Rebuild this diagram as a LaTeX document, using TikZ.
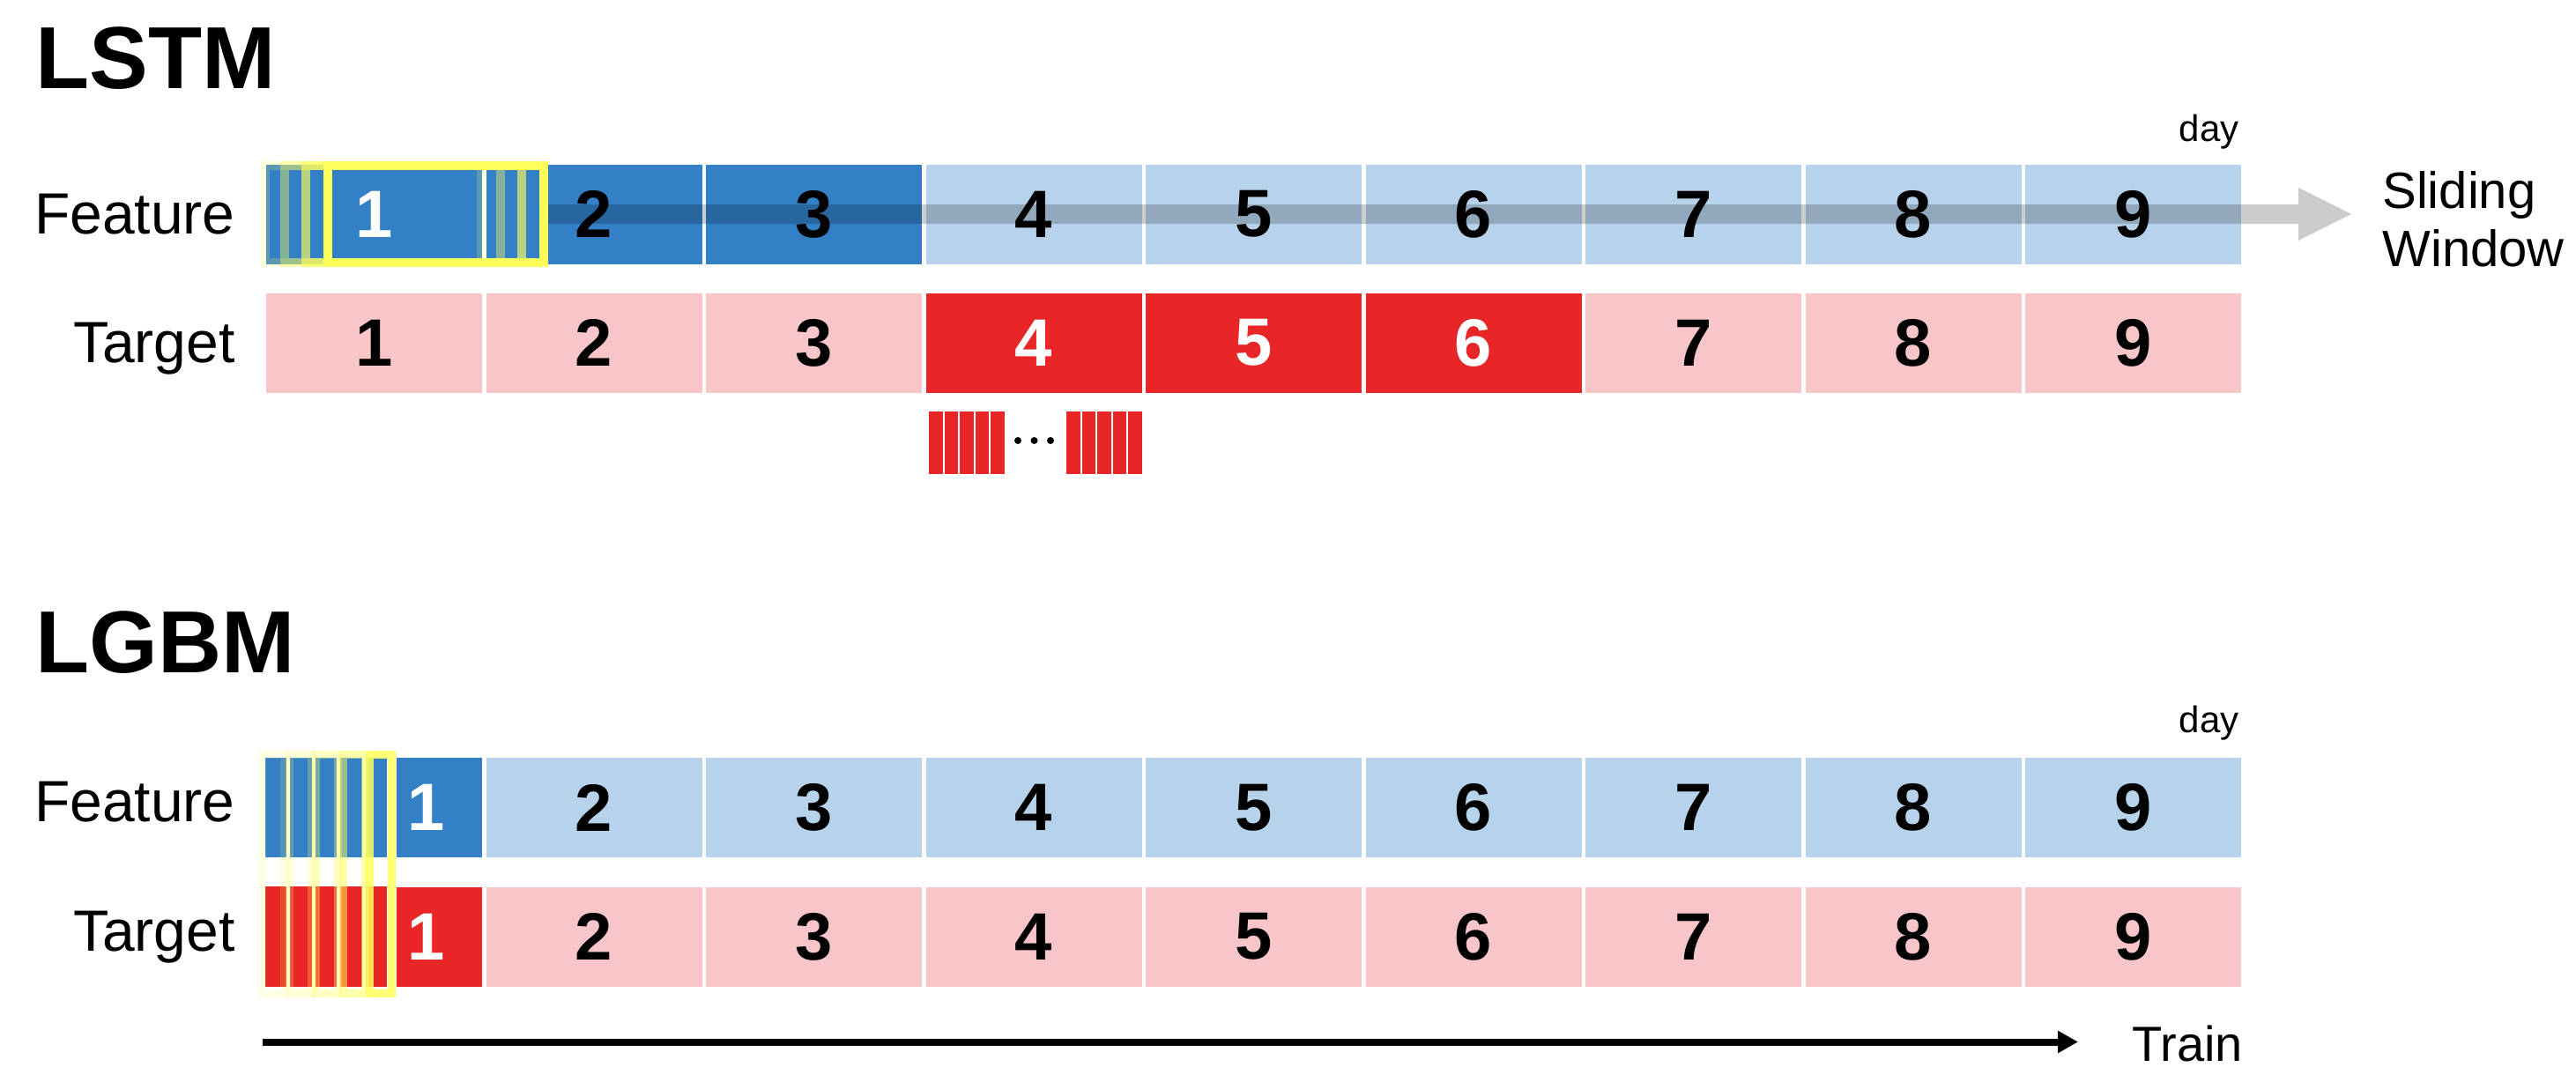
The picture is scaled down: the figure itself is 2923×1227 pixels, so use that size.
\documentclass[tikz,border=0pt]{standalone}
\usepackage{fontspec}
\setmainfont{Liberation Sans}
\usetikzlibrary{arrows.meta}
\definecolor{dblue}{HTML}{3380C7}
\definecolor{lblue}{HTML}{B7D2EB}
\definecolor{lpink}{HTML}{F8C6C8}
\definecolor{dred}{HTML}{E82628}
\definecolor{wyellow}{HTML}{FFFF5A}
\tikzset{
  cellbox/.style={rectangle, inner sep=0pt, minimum width=122.5pt, minimum height=56.5pt,
    font=\fontsize{38}{40}\selectfont\bfseries},
  subbox/.style={rectangle, inner sep=0pt},
  title/.style={inner sep=0pt, anchor=base west, font=\fontsize{50}{54}\selectfont\bfseries},
  rowlabel/.style={inner sep=0pt, anchor=base east, font=\fontsize{33}{36}\selectfont},
  daylabel/.style={inner sep=0pt, anchor=base east, font=\fontsize{21}{23}\selectfont},
  sidelabel/.style={inner sep=0pt, anchor=base west, font=\fontsize{29}{32}\selectfont},
  winbox/.style={draw=wyellow, line width=5pt},
  lwinbox/.style={draw=wyellow, line width=4.5pt},
  trainarrow/.style={line width=4pt, -{Triangle[length=11.5pt,width=12pt]}},
  slidearrow/.style={fill=black, fill opacity=0.2, draw=none},
}
\begin{document}
\begin{tikzpicture}[x=0.5pt,y=-0.5pt]
\useasboundingbox (0,0) rectangle (2923,1227);

% ---------------- LSTM ----------------
\node[title] (tlstm) at (40,100) {LSTM};
\node[rowlabel] (lfeat) at (267,265) {Feature};
\node[rowlabel] (ltarg) at (267,411) {Target};
\node[daylabel] (lday) at (2541,160) {day};

\foreach \k/\fc/\tc in {1/dblue/white,2/dblue/black,3/dblue/black,4/lblue/black,5/lblue/black,6/lblue/black,7/lblue/black,8/lblue/black,9/lblue/black}{
  \pgfmathsetmacro\cx{424.5+(\k-1)*249.5}
  \node[cellbox, fill=\fc, text=\tc] (sf\k) at (\cx,243) {\k};
}
\foreach \k/\fc/\tc in {1/lpink/black,2/lpink/black,3/lpink/black,4/dred/white,5/dred/white,6/dred/white,7/lpink/black,8/lpink/black,9/lpink/black}{
  \pgfmathsetmacro\cx{424.5+(\k-1)*249.5}
  \node[cellbox, fill=\fc, text=\tc] (st\k) at (\cx,389) {\k};
}

% sliding window arrow
\path[slidearrow] (622,232) -- (2608,232) -- (2608,213) -- (2668,243) -- (2608,273) -- (2608,254) -- (622,254) -- cycle;
\node[sidelabel] (slide1) at (2703,236) {Sliding};
\node[sidelabel] (slide2) at (2703,302) {Window};

% sliding windows (yellow)
\foreach \l/\op in {296/0.2,318/0.4,342/0.65,367/1}{
  \draw[winbox, draw opacity=\op] (\l+5,188) rectangle (\l+250,298);
}

% hourly bars under day 4
\foreach \i in {0,...,4}{
  \fill[dred] (1054+17.6*\i,467) rectangle (1069.5+17.6*\i,538);
  \fill[dred] (1210+17.6*\i,467) rectangle (1225.5+17.6*\i,538);
}
\foreach \d in {1155,1173.5,1192}{
  \fill[black] (\d,500) circle (2pt);
}

% ---------------- LGBM ----------------
\node[title] (tlgbm) at (40,763) {LGBM};
\node[rowlabel] (gfeat) at (267,932) {Feature};
\node[rowlabel] (gtarg) at (267,1079) {Target};
\node[daylabel] (gday) at (2541,831) {day};

\foreach \k in {2,...,9}{
  \pgfmathsetmacro\cx{424.5+(\k-1)*249.5}
  \node[cellbox, fill=lblue] (gf\k) at (\cx,916.5) {\k};
  \node[cellbox, fill=lpink] (gt\k) at (\cx,1063) {\k};
}
\node[subbox, fill=dblue, minimum width=48.5pt, minimum height=56.5pt] (gf1) at (498.5,916.5) {};
\node[subbox, fill=dred, minimum width=48.5pt, minimum height=56.5pt] (gt1) at (498.5,1063) {};
\node[cellbox, minimum width=0pt, minimum height=0pt, text=white] (gf1n) at (484,916.5) {1};
\node[cellbox, minimum width=0pt, minimum height=0pt, text=white] (gt1n) at (484,1063) {1};

\foreach \i in {0,...,4}{
  \fill[dblue] (301+28.4*\i,860) rectangle (325.4+28.4*\i,973);
  \fill[dred] (301+28.4*\i,1006) rectangle (325.4+28.4*\i,1120);
}
\foreach \i/\op in {0/0.15,1/0.25,2/0.35,3/0.5,4/0.85}{
  \draw[lwinbox, draw opacity=\op] (297.5+30.5*\i,856.5) rectangle (322.5+30.5*\i,1127.5);
}

% train arrow
\coordinate (trs) at (298,1182.5);
\coordinate (tre) at (2358,1182.5);
\draw[trainarrow] (trs) -- (tre);
\node[sidelabel, font=\fontsize{28}{30}\selectfont] (train) at (2419,1204) {Train};
\end{tikzpicture}
\end{document}
